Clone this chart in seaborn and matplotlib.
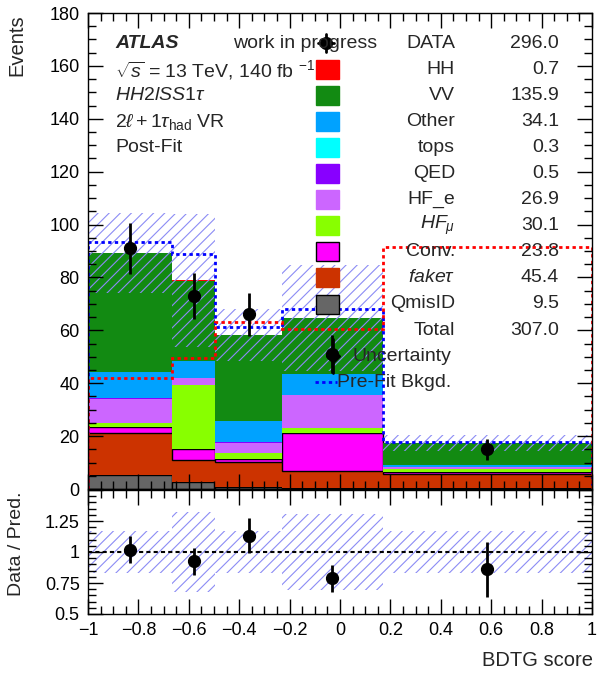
import matplotlib
matplotlib.use("Agg")
import matplotlib.pyplot as plt
from matplotlib.lines import Line2D
from matplotlib.patches import Rectangle
from matplotlib.ticker import MultipleLocator, FuncFormatter
import numpy as np
import pandas as pd
import seaborn as sns

# ---- data ----
edges = [-1.0, -0.665, -0.495, -0.23, 0.17, 1.0]
processes = ["HH", "VV", "Other", "tops", "QED", "HF_e", "HF_mu", "Conv", "fake", "QmisID"]
colors = ["#ff0000", "#128a12", "#00a2ff", "#00ffff", "#8800ff",
          "#cc66ff", "#88ff00", "#ff00ff", "#cc3300", "#666666"]
hh = [0.15, 0.15, 0.15, 0.15, 0.1]
vv = [45.0, 30.4, 32.3, 21.3, 8.4]
other = [9.8, 6.4, 8.2, 7.8, 0.6]
tops = [0.1, 0.05, 0.05, 0.05, 0.05]
qed = [0.1, 0.1, 0.1, 0.1, 0.1]
hf_e = [9.2, 2.6, 3.8, 12.4, 0.8]
hf_mu = [1.4, 24.0, 2.3, 1.7, 0.8]
conv = [2.3, 4.2, 1.1, 14.5, 1.1]
fake = [16.0, 8.3, 9.5, 6.3, 5.3]
qmisid = [5.3, 2.7, 0.8, 0.5, 0.2]
data = [91, 73, 66, 51, 15]
rel_unc = [0.17, 0.32, 0.17, 0.31, 0.17]
prefit = [93.5, 89.0, 61.4, 68.0, 17.9]
red_dotted = [41.8, 49.4, 63.0, 60.5, 91.6]

legend_labels = ["HH", "VV", "Other", "tops", "QED", "HF_e", r"$HF_{\mu}$",
                 "Conv.", r"$fake\tau$", "QmisID"]
legend_yields = ["0.7", "135.9", "34.1", "0.3", "0.5", "26.9", "30.1",
                 "23.8", "45.4", "9.5"]
data_yield = "296.0"
total_yield = "307.0"

yields = [hh, vv, other, tops, qed, hf_e, hf_mu, conv, fake, qmisid]

sns.set_theme(style="ticks")
plt.rcParams["font.family"] = ["Liberation Sans", "DejaVu Sans"]
plt.rcParams["mathtext.fontset"] = "custom"
plt.rcParams["mathtext.rm"] = "Liberation Sans"
plt.rcParams["mathtext.it"] = "Liberation Sans:italic"
plt.rcParams["mathtext.bf"] = "Liberation Sans:bold"
plt.rcParams["hatch.linewidth"] = 0.8
plt.rcParams["axes.axisbelow"] = False
for k in ("xtick", "ytick"):
    plt.rcParams[k + ".direction"] = "in"
    plt.rcParams[k + ".major.size"] = 11
    plt.rcParams[k + ".minor.size"] = 6
    plt.rcParams[k + ".major.width"] = 1
    plt.rcParams[k + ".minor.width"] = 1
    plt.rcParams[k + ".color"] = "black"
    plt.rcParams[k + ".labelsize"] = 13
    plt.rcParams[k + ".minor.visible"] = True
plt.rcParams["xtick.top"] = True
plt.rcParams["xtick.bottom"] = True
plt.rcParams["ytick.left"] = True
plt.rcParams["ytick.right"] = True

W, H = 598, 673


def fx(px):
    return px / W


def fy(py):
    return 1 - py / H


edges_a = np.array(edges)
centers = 0.5 * (edges_a[1:] + edges_a[:-1])
widths = np.diff(edges_a)

rows = []
for name, vals in zip(processes, yields):
    for c, v in zip(centers, vals):
        rows.append({"x": c, "w": v, "proc": name})
df = pd.DataFrame(rows)

pred = np.sum(np.array(yields), axis=0)
data_a = np.array(data, dtype=float)
unc = pred * np.array(rel_unc)

fig = plt.figure(figsize=(W / 100, H / 100), dpi=100)
ax = fig.add_axes([fx(88), fy(489), fx(592) - fx(88), fy(13) - fy(489)])
rax = fig.add_axes([fx(88), fy(614), fx(592) - fx(88), fy(490) - fy(614)])

sns.histplot(data=df, x="x", weights="w", hue="proc", hue_order=processes,
             palette=dict(zip(processes, colors)), bins=edges, multiple="stack",
             element="bars", alpha=1, linewidth=0, legend=False, ax=ax)
for p in ax.patches:
    fc = matplotlib.colors.to_hex(p.get_facecolor())
    if fc in ("#ff00ff", "#666666"):
        p.set_edgecolor("black")
        p.set_linewidth(1.0)

# uncertainty band
hatch_col = "#8c8cf5"
ax.bar(centers, 2 * unc, bottom=pred - unc, width=widths, facecolor="none",
       edgecolor=hatch_col, hatch="///", linewidth=0)
ax.stairs(prefit, edges, color="#0000ff", linestyle=(0, (1.2, 1.2)), lw=2)
ax.stairs(red_dotted, edges, color="#ff0000", linestyle=(0, (1.2, 1.2)), lw=2)
ax.errorbar(centers, data_a, yerr=np.sqrt(data_a), fmt="o", color="black",
            ms=8.5, elinewidth=2, capsize=0)

ax.set_xlim(-1, 1)
ax.set_ylim(0, 180)
ax.set_xlabel("")
ax.set_ylabel("")
ax.xaxis.set_major_locator(MultipleLocator(0.2))
ax.xaxis.set_minor_locator(MultipleLocator(0.05))
ax.yaxis.set_major_locator(MultipleLocator(20))
ax.yaxis.set_minor_locator(MultipleLocator(5))

# ratio panel
ratio = data_a / pred
ratio_err = np.sqrt(data_a) / pred
rax.bar(centers, 2 * np.array(rel_unc), bottom=1 - np.array(rel_unc), width=widths,
        facecolor="none", edgecolor=hatch_col, hatch="///", linewidth=0)
rax.axhline(1, color="black", linestyle=(0, (2, 1.5)), lw=1.5)
rax.errorbar(centers, ratio, yerr=ratio_err, fmt="o", color="black",
             ms=8.5, elinewidth=2, capsize=0)
rax.set_xlim(-1, 1)
rax.set_ylim(0.5, 1.5)
rax.xaxis.set_major_locator(MultipleLocator(0.2))
rax.xaxis.set_minor_locator(MultipleLocator(0.05))
rax.yaxis.set_major_locator(MultipleLocator(0.25))
rax.yaxis.set_minor_locator(MultipleLocator(0.05))
rax.yaxis.set_major_formatter(FuncFormatter(lambda v, _: "" if v > 1.4 else "%g" % v))
rax.xaxis.set_major_formatter(FuncFormatter(
    lambda v, _: ("%g" % round(v, 2)).replace("-", "\u2212")))

for a in (ax, rax):
    a.tick_params(which="both", direction="in", top=True, right=True,
                  bottom=True, left=True, pad=6)
    for s in a.spines.values():
        s.set_visible(True)
        s.set_color("black")
        s.set_linewidth(1)
        s.set_zorder(5)
ax.tick_params(labelbottom=False)

# axis titles
fig.text(fx(17), fy(14), "Events", rotation=90, ha="center", va="top", fontsize=14.5)
fig.text(fx(17), fy(491), "Data / Pred.", rotation=90, ha="center", va="top", fontsize=14)
fig.text(fx(593), fy(660), "BDTG score", ha="right", va="center", fontsize=14.5)

# ATLAS labels
fig.text(fx(115), fy(43), "ATLAS", fontsize=14, fontweight="bold", style="italic",
         va="center")
fig.text(fx(233), fy(43), "work in progress", fontsize=14, va="center")
fig.text(fx(115), fy(70), r"$\sqrt{s}$ = 13 TeV, 140 fb $^{-1}$", fontsize=14, va="center")
fig.text(fx(115), fy(96), r"$HH2lSS1\tau$", fontsize=14, va="center")
fig.text(fx(115), fy(122), r"$2\ell+1\tau_{\rm had}$ VR", fontsize=14, va="center")
fig.text(fx(115), fy(148), "Post-Fit", fontsize=14, va="center")

# legend (drawn by hand, ROOT style)
row0 = 43
step = 26.1
fig.text(fx(455), fy(row0), "DATA", ha="right", va="center", fontsize=14)
fig.text(fx(559), fy(row0), data_yield, ha="right", va="center", fontsize=14)
fig.add_artist(Line2D([fx(326), fx(326)], [fy(row0 - 9), fy(row0 + 9)],
                      color="black", lw=2, transform=fig.transFigure))
fig.add_artist(Line2D([fx(318), fx(334)], [fy(row0), fy(row0)],
                      color="black", lw=2, transform=fig.transFigure))
fig.add_artist(Line2D([fx(326)], [fy(row0)], marker="o", ms=8.5, color="black",
                      transform=fig.transFigure))
for i, (lab, yl, col) in enumerate(zip(legend_labels, legend_yields, colors)):
    yy = row0 + step * (i + 1)
    ec = "black" if col in ("#ff00ff", "#666666") else col
    fig.add_artist(Rectangle((fx(316), fy(yy + 9.5)), fx(339) - fx(316),
                             fy(yy - 9.5) - fy(yy + 9.5), facecolor=col,
                             edgecolor=ec, lw=1, transform=fig.transFigure))
    fig.text(fx(455), fy(yy), lab, ha="right", va="center", fontsize=14)
    fig.text(fx(559), fy(yy), yl, ha="right", va="center", fontsize=14)
yt = row0 + step * 11
fig.text(fx(455), fy(yt), "Total", ha="right", va="center", fontsize=14)
fig.text(fx(559), fy(yt), total_yield, ha="right", va="center", fontsize=14)
yu = row0 + step * 12
fig.add_artist(Line2D([fx(333), fx(333)], [fy(yu - 17), fy(yu + 17)],
                      color="black", lw=2, transform=fig.transFigure))
fig.add_artist(Line2D([fx(333)], [fy(yu)], marker="D", ms=7, color="black",
                      transform=fig.transFigure))
fig.text(fx(352), fy(yu), "Uncertainty", ha="left", va="center", fontsize=14)
yp = row0 + step * 13
fig.add_artist(Line2D([fx(315), fx(337)], [fy(yp), fy(yp)], color="#0000ff",
                      linestyle=(0, (1.2, 1.2)), lw=2, transform=fig.transFigure))
fig.text(fx(337), fy(yp), "Pre-Fit Bkgd.", ha="left", va="center", fontsize=14)

fig.savefig("out.png", dpi=100)
